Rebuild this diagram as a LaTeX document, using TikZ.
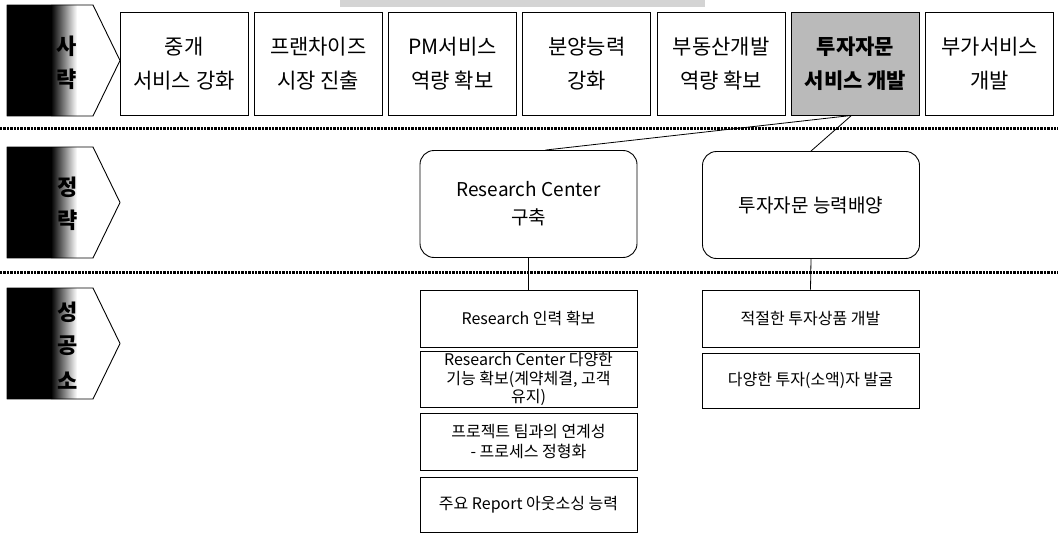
\documentclass[tikz,border=0pt]{standalone}
\usepackage{fontspec}
\setmainfont{Noto Sans CJK KR}
\begin{document}
\begin{tikzpicture}[x=1pt,y=-1pt,
  box/.style={draw=black,line width=0.9pt,inner sep=1pt,align=center},
  topbox/.style={box,minimum width=128pt,minimum height=103pt,
    font=\fontsize{21}{34}\selectfont},
  hilite/.style={topbox,fill=black!27,font=\fontsize{21}{34}\selectfont\bfseries},
  roundbox/.style={box,rounded corners=14pt,minimum width=217pt,minimum height=107pt,
    font=\fontsize{19}{28}\selectfont},
  itembox/.style={box,minimum width=217pt,font=\fontsize{16}{18.5}\selectfont},
  tierlbl/.style={font=\fontsize{22}{22}\selectfont\bfseries,inner sep=0pt},
  sep/.style={line width=3pt,dash pattern=on 2.4pt off 1pt,black},
  link/.style={line width=0.8pt},
  pics/tier/.style={code={
    \begin{scope}
      \clip (0,0) -- (86,0) -- (113,55.5) -- (86,111) -- (0,111) -- cycle;
      \fill[black] (0,0) rectangle (45,111);
      \shade[left color=black,right color=white] (44,0) rectangle (70,111);
    \end{scope}
    \draw[line width=0.9pt,line join=round] (0,0) -- (86,0) -- (113,55.5) -- (86,111) -- (0,111) -- cycle;
  }}]
\useasboundingbox (0,0) rectangle (1058,535);

% light strip along the top edge
\fill[black!17] (340,0) rectangle (705,7);

% tier markers on the left
\pic at (7,5) {tier};
\pic at (7,147) {tier};
\pic at (7,288) {tier};
\node[tierlbl] (t1a) at (67,46) {사};
\node[tierlbl] (t1b) at (67,79) {략};
\node[tierlbl] (t2a) at (68,187) {정};
\node[tierlbl] (t2b) at (68,220) {략};
\node[tierlbl] (t3a) at (68,312) {성};
\node[tierlbl] (t3b) at (68,346) {공};
\node[tierlbl] (t3c) at (68,381) {소};

% top tier boxes
\node[topbox] (s1) at (184,63.5) {중개\\서비스 강화};
\node[topbox] (s2) at (318.3,63.5) {프랜차이즈\\시장 진출};
\node[topbox] (s3) at (452.6,63.5) {PM서비스\\역량 확보};
\node[topbox] (s4) at (586.9,63.5) {분양능력\\강화};
\node[topbox] (s5) at (721.2,63.5) {부동산개발\\역량 확보};
\node[hilite] (s6) at (855.5,63.5) {투자자문\\서비스 개발};
\node[topbox] (s7) at (989.8,63.5) {부가서비스\\개발};

% tier separators
\draw[sep] (0,128) -- (1058,128);
\draw[sep] (0,272) -- (1058,272);

% strategy boxes
\node[roundbox] (rc) at (528.5,204) {Research Center\\구축};
\node[roundbox] (inv) at (811,205) {투자자문 능력배양};

% success factor boxes
\node[itembox,minimum height=57pt] (rb1) at (528.5,318.5) {Research 인력 확보};
\node[itembox,minimum height=56pt] (rb2) at (528.5,379) {Research Center 다양한\\기능 확보(계약체결, 고객\\유지)};
\node[itembox,minimum height=57pt,font=\fontsize{16}{20}\selectfont] (rb3) at (528.5,441.5) {프로젝트 팀과의 연계성\\- 프로세스 정형화};
\node[itembox,minimum height=55pt] (rb4) at (528.5,504.5) {주요 Report 아웃소싱 능력};
\node[itembox,minimum height=57pt] (ib1) at (810.5,318.5) {적절한 투자상품 개발};
\node[itembox,minimum height=55pt] (ib2) at (810.5,380.5) {다양한 투자(소액)자 발굴};

% connectors
\draw[link] ([xshift=-4pt]s6.south) -- ([xshift=17pt]rc.north);
\draw[link] ([xshift=-4pt]s6.south) -- (inv.north);
\draw[link] (rc.south) -- (rb1.north);
\draw[link] (inv.south) -- (ib1.north);
\end{tikzpicture}
\end{document}
